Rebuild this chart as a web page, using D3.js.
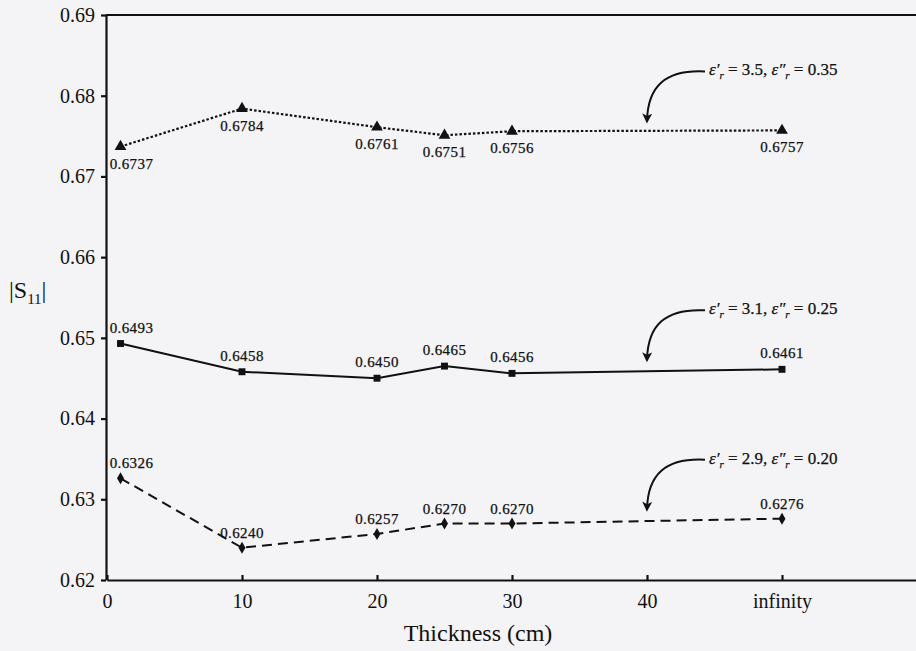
<!DOCTYPE html>
<html>
<head>
<meta charset="utf-8">
<script src="https://cdn.jsdelivr.net/npm/d3@7"></script>
<style>
  html, body { margin: 0; padding: 0; background: #f4f3f6; }
  svg { display: block; }
  svg text { font-family: "Times New Roman", "Liberation Serif", Times, serif; }
</style>
</head>
<body>
<div id="chart"></div>
<script>
// thickness values, "infinity" is drawn at x = 50
var thickness = [1, 10, 20, 25, 30, 50];
var xTicks = [0, 10, 20, 30, 40, 50];
var xTickLabels = ["0", "10", "20", "30", "40", "infinity"];
var yTicks = [0.62, 0.63, 0.64, 0.65, 0.66, 0.67, 0.68, 0.69];

var s11_35 = [0.6737, 0.6784, 0.6761, 0.6751, 0.6756, 0.6757];
var s11_31 = [0.6493, 0.6458, 0.6450, 0.6465, 0.6456, 0.6461];
var s11_29 = [0.6326, 0.6240, 0.6257, 0.6270, 0.6270, 0.6276];

var epsReal = ["3.5", "3.1", "2.9"];
var epsImag = ["0.35", "0.25", "0.20"];

var width = 916, height = 651;
var marginLeft = 107, plotTop = 15, plotBottom = 580;

var svg = d3.select("#chart").append("svg")
    .attr("width", width)
    .attr("height", height);

var x = d3.scaleLinear().domain([0, 60]).range([marginLeft, marginLeft + 810]);
var y = d3.scaleLinear().domain([0.62, 0.69]).range([plotBottom, plotTop]);

// axes
var xAxis = d3.axisBottom(x)
    .tickValues(xTicks)
    .tickFormat((d, i) => xTickLabels[i])
    .tickSizeInner(-5)
    .tickSizeOuter(0)
    .tickPadding(14);

var yAxis = d3.axisLeft(y)
    .tickValues(yTicks)
    .tickFormat(d3.format(".2f"))
    .tickSizeInner(5)
    .tickSizeOuter(0)
    .tickPadding(6);

var gx = svg.append("g")
    .attr("transform", "translate(0," + plotBottom + ")")
    .call(xAxis);
var gy = svg.append("g")
    .attr("transform", "translate(" + (marginLeft - 1) + ",0)")
    .call(yAxis);

[gx, gy].forEach(function(g) {
    g.attr("font-family", null);
    g.selectAll("path, line").attr("stroke", "#111").attr("stroke-width", 2.2);
    g.selectAll("text")
        .attr("fill", "#111")
        .style("font-size", "20px");
});

// top frame line
svg.append("line")
    .attr("x1", marginLeft - 1).attr("x2", width)
    .attr("y1", y(0.69)).attr("y2", y(0.69))
    .attr("stroke", "#111").attr("stroke-width", 2.2);

// axis titles
svg.append("text")
    .attr("x", 478).attr("y", 641)
    .attr("text-anchor", "middle")
    .attr("fill", "#111")
    .style("font-size", "24px")
    .text("Thickness (cm)");

var yTitle = svg.append("text")
    .attr("x", 9).attr("y", 298)
    .attr("fill", "#111")
    .style("font-size", "24px");
yTitle.append("tspan").text("|S");
yTitle.append("tspan").attr("dy", 6).style("font-size", "15px").text("11");
yTitle.append("tspan").attr("dy", -6).text("|");

// series
var series = [
    { values: s11_35, dash: "2.5,2", width: 2.2, symbol: d3.symbolTriangle, size: 60, labelDy: 22, i: 0 },
    { values: s11_31, dash: null, width: 2, symbol: d3.symbolSquare, size: 48, labelDy: -11, i: 1 },
    { values: s11_29, dash: "10,6", width: 2, symbol: d3.symbolDiamond, size: 42, labelDy: -10, i: 2 }
];

var line = d3.line()
    .x((d, i) => x(thickness[i]))
    .y(d => y(d));

series.forEach(function(s) {
    svg.append("path")
        .datum(s.values)
        .attr("fill", "none")
        .attr("stroke", "#111")
        .attr("stroke-width", s.width)
        .attr("stroke-dasharray", s.dash)
        .attr("d", line);

    svg.selectAll(null)
        .data(s.values)
        .enter()
        .append("path")
        .attr("d", d3.symbol().type(s.symbol).size(s.size))
        .attr("transform", (d, i) => "translate(" + x(thickness[i]) + "," + y(d) + ")")
        .attr("fill", "#111");

    svg.selectAll(null)
        .data(s.values)
        .enter()
        .append("text")
        .attr("x", (d, i) => x(thickness[i]) + (i == 0 ? 11 : 0))
        .attr("y", d => y(d) + s.labelDy)
        .attr("text-anchor", "middle")
        .attr("fill", "#111")
        .attr("stroke", "#111")
        .attr("stroke-width", 0.25)
        .style("font-size", "15px")
        .style("letter-spacing", "0.4px")
        .text(d => d.toFixed(4));
});

// arrow annotations
svg.append("defs").append("marker")
    .attr("id", "head")
    .attr("viewBox", "0 0 10 10")
    .attr("refX", 7).attr("refY", 5)
    .attr("markerWidth", 11).attr("markerHeight", 10)
    .attr("markerUnits", "userSpaceOnUse")
    .attr("orient", "auto")
    .append("path")
    .attr("d", "M0,0 L10,5 L0,10 L2.5,5 Z")
    .attr("fill", "#111");

series.forEach(function(s) {
    var tipX = x(40), tipY = y(s.values[5]) - 6;
    var sx = tipX + 58, sy = tipY - 53;
    svg.append("path")
        .attr("d", "M" + sx + "," + sy +
            " C" + (sx - 40) + "," + (sy - 2) + " " + (tipX + 1) + "," + (sy + 15) + " " + tipX + "," + (tipY - 4))
        .attr("fill", "none")
        .attr("stroke", "#111")
        .attr("stroke-width", 2)
        .attr("marker-end", "url(#head)");

    var t = svg.append("text")
        .attr("x", sx + 4).attr("y", sy + 4)
        .attr("fill", "#111")
        .attr("stroke", "#111")
        .attr("stroke-width", 0.25)
        .style("font-size", "17px");
    t.append("tspan").style("font-style", "italic").text("ε′");
    t.append("tspan").attr("dy", 4).style("font-size", "11px").style("font-style", "italic").text("r");
    t.append("tspan").attr("dy", -4).text(" = " + epsReal[s.i] + ",  ");
    t.append("tspan").style("font-style", "italic").text("ε″");
    t.append("tspan").attr("dy", 4).style("font-size", "11px").style("font-style", "italic").text("r");
    t.append("tspan").attr("dy", -4).text(" = " + epsImag[s.i]);
});
</script>
</body>
</html>
